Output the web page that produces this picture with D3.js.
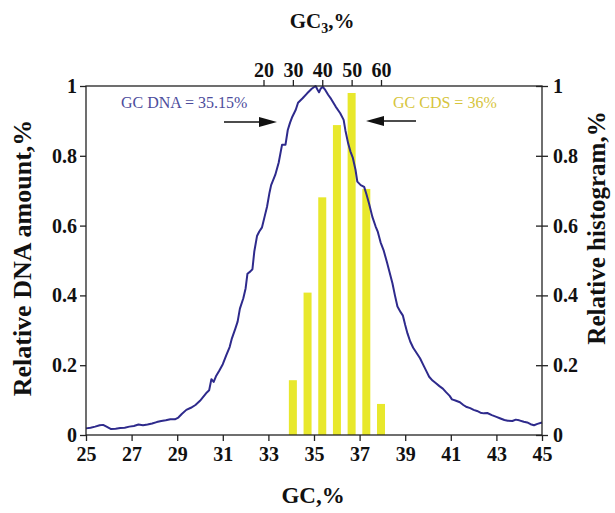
<!DOCTYPE html>
<html>
<head>
<meta charset="utf-8">
<script src="https://cdn.jsdelivr.net/npm/d3@7"></script>
<style>
  body { margin: 0; background: #fff; }
  text { font-family: "Liberation Serif", "DejaVu Serif", serif; }
</style>
</head>
<body>
<svg></svg>
<script>
var width = 615,
    height = 513;

// DNA GC content curve (bottom axis, left axis)
var gcDna = [25.0, 25.2, 25.4, 25.6, 25.75, 25.9, 26.1, 26.3, 26.5, 26.7, 26.9, 27.1, 27.3, 27.5, 27.7, 27.9,
    28.1, 28.3, 28.5, 28.7, 28.9, 29.05, 29.2, 29.4, 29.6, 29.8, 30.0, 30.15, 30.3, 30.4, 30.5, 30.6, 30.7,
    30.85, 31.0, 31.15, 31.3, 31.4, 31.55, 31.65, 31.75, 31.9, 32.0, 32.08, 32.2, 32.3, 32.38, 32.5, 32.6,
    32.72, 32.85, 32.94, 33.05, 33.12, 33.3, 33.45, 33.55, 33.6, 33.75, 33.85, 33.95, 34.05, 34.2, 34.3,
    34.5, 34.7, 34.9, 35.07, 35.15, 35.22, 35.3, 35.38, 35.5, 35.62, 35.75, 35.95, 36.15, 36.3, 36.38,
    36.5, 36.6, 36.7, 36.82, 36.9, 37.05, 37.2, 37.3, 37.42, 37.56, 37.7, 37.8, 37.92, 38.05, 38.2, 38.3,
    38.44, 38.55, 38.66, 38.8, 38.9, 39.0, 39.1, 39.22, 39.35, 39.5, 39.65, 39.83, 39.95, 40.05, 40.2,
    40.35, 40.5, 40.65, 40.8, 40.95, 41.05, 41.2, 41.4, 41.55, 41.7, 41.85, 42.0, 42.15, 42.3, 42.45,
    42.6, 42.8, 43.0, 43.15, 43.35, 43.5, 43.7, 43.85, 44.0, 44.2, 44.35, 44.5, 44.65, 44.8, 45.0];
var relDna = [0.019, 0.021, 0.024, 0.028, 0.029, 0.024, 0.017, 0.018, 0.020, 0.021, 0.024, 0.026, 0.030, 0.028, 0.030, 0.033,
    0.037, 0.040, 0.042, 0.045, 0.045, 0.050, 0.060, 0.072, 0.078, 0.086, 0.098, 0.110, 0.122, 0.128, 0.160, 0.152, 0.168,
    0.185, 0.203, 0.228, 0.252, 0.277, 0.305, 0.325, 0.362, 0.392, 0.420, 0.462, 0.468, 0.475, 0.525, 0.570, 0.583,
    0.595, 0.630, 0.654, 0.695, 0.716, 0.745, 0.780, 0.815, 0.832, 0.832, 0.874, 0.895, 0.912, 0.932, 0.952,
    0.965, 0.979, 0.992, 1.000, 0.990, 0.982, 0.993, 0.998, 0.988, 0.975, 0.963, 0.941, 0.922, 0.903, 0.872,
    0.835, 0.812, 0.795, 0.760, 0.726, 0.716, 0.711, 0.690, 0.662, 0.625, 0.598, 0.582, 0.552, 0.530, 0.495, 0.470,
    0.435, 0.400, 0.368, 0.352, 0.342, 0.315, 0.291, 0.268, 0.250, 0.235, 0.220, 0.196, 0.180, 0.167, 0.156,
    0.148, 0.140, 0.133, 0.122, 0.112, 0.102, 0.099, 0.094, 0.086, 0.080, 0.077, 0.072, 0.069, 0.064, 0.062,
    0.063, 0.057, 0.052, 0.048, 0.043, 0.041, 0.040, 0.044, 0.042, 0.038, 0.036, 0.031, 0.028, 0.032, 0.036];

// CDS GC3 histogram (top axis, right axis)
var gc3Bins = [30, 35, 40, 45, 50, 55, 60];
var relHist = [0.157, 0.408, 0.681, 0.888, 0.980, 0.705, 0.089];

// tick labels
var gcTicks = [25, 27, 29, 31, 33, 35, 37, 39, 41, 43, 45];
var gc3Ticks = [20, 30, 40, 50, 60];
var relTicks = [0, 0.2, 0.4, 0.6, 0.8, 1];

var svg = d3.select("svg")
    .attr("width", width)
    .attr("height", height);

var x = d3.scaleLinear().domain([25, 45]).range([86, 542]);
var x3 = d3.scaleLinear().domain([20, 60]).range([263.5, 381]);
var y = d3.scaleLinear().domain([0, 1]).range([435, 86]);

var fmt = function(d) { return d === 0 || d === 1 ? String(d) : d.toFixed(1); };

////////////////////////
//
// Histogram bars
//
////////////////////////

svg.selectAll(".bar")
    .data(gc3Bins)
    .enter()
    .append("rect")
    .attr("x", function(d) { return x3(d) - 4; })
    .attr("width", 8)
    .attr("y", function(d, i) { return y(relHist[i]); })
    .attr("height", function(d, i) { return y(0) - y(relHist[i]); })
    .attr("fill", "#e8e82c");

////////////////////////
//
// DNA curve
//
////////////////////////

var line = d3.line()
    .x(function(d) { return x(d); })
    .y(function(d, i) { return y(relDna[i]); });

svg.append("path")
    .attr("d", line(gcDna))
    .attr("fill", "none")
    .attr("stroke", "#2e2a8c")
    .attr("stroke-width", 2)
    .attr("stroke-linejoin", "round");

////////////////////////
//
// Frame and axes
//
////////////////////////

svg.append("rect")
    .attr("x", x.range()[0])
    .attr("y", y.range()[1])
    .attr("width", x.range()[1] - x.range()[0])
    .attr("height", y.range()[0] - y.range()[1])
    .attr("fill", "none")
    .attr("stroke", "#222")
    .attr("stroke-width", 1.3);

function styleAxis(g, size) {
    g.select(".domain").remove();
    g.selectAll("line").attr("stroke", "#222").attr("stroke-width", 1.3);
    g.selectAll("text")
        .attr("font-family", "Liberation Serif, serif")
        .attr("font-weight", "bold")
        .attr("font-size", size)
        .attr("fill", "#111");
}

svg.append("g")
    .attr("transform", "translate(0," + y(0) + ")")
    .call(d3.axisBottom(x).tickValues(gcTicks).tickSize(6).tickPadding(6))
    .call(styleAxis, 20);

svg.append("g")
    .attr("transform", "translate(0," + y(1) + ")")
    .call(d3.axisTop(x3).tickValues(gc3Ticks).tickSize(6).tickPadding(3))
    .call(styleAxis, 20);

svg.append("g")
    .attr("transform", "translate(" + x(25) + ",0)")
    .call(d3.axisLeft(y).tickValues(relTicks).tickFormat(fmt).tickSize(6).tickPadding(3))
    .call(styleAxis, 20);

var right = svg.append("g")
    .attr("transform", "translate(" + x(45) + ",0)")
    .call(d3.axisRight(y).tickValues(relTicks).tickFormat(fmt).tickSize(6).tickPadding(5))
    .call(styleAxis, 20);
right.selectAll(".tick line").attr("x1", -6);

////////////////////////
//
// Titles
//
////////////////////////

var title3 = svg.append("text")
    .attr("x", 322)
    .attr("y", 28)
    .attr("text-anchor", "middle")
    .attr("font-weight", "bold")
    .attr("font-size", 21)
    .attr("fill", "#111");
title3.append("tspan").text("GC");
title3.append("tspan").attr("font-size", 14).attr("dy", 5).text("3");
title3.append("tspan").attr("dy", -5).text(",%");

svg.append("text")
    .attr("x", 313)
    .attr("y", 503)
    .attr("text-anchor", "middle")
    .attr("font-weight", "bold")
    .attr("font-size", 23)
    .attr("fill", "#111")
    .text("GC,%");

svg.append("text")
    .attr("transform", "translate(31,258) rotate(-90)")
    .attr("text-anchor", "middle")
    .attr("font-weight", "bold")
    .attr("font-size", 26)
    .attr("fill", "#111")
    .text("Relative DNA amount,%");

svg.append("text")
    .attr("transform", "translate(605,228) rotate(-90)")
    .attr("text-anchor", "middle")
    .attr("font-weight", "bold")
    .attr("font-size", 25)
    .attr("fill", "#111")
    .text("Relative histogram,%");

////////////////////////
//
// Annotations
//
////////////////////////

svg.append("text")
    .attr("x", 121)
    .attr("y", 108)
    .attr("font-size", 16)
    .attr("fill", "#4c4c9c")
    .text("GC DNA = 35.15%");

svg.append("text")
    .attr("x", 393)
    .attr("y", 108)
    .attr("font-size", 16)
    .attr("fill", "#d6c53c")
    .text("GC CDS = 36%");

function arrow(x0, x1, yy) {
    var dir = x1 > x0 ? 1 : -1;
    svg.append("line")
        .attr("x1", x0).attr("y1", yy)
        .attr("x2", x1 - dir * 16).attr("y2", yy)
        .attr("stroke", "#111")
        .attr("stroke-width", 1.6);
    svg.append("path")
        .attr("d", "M" + x1 + "," + yy + " L" + (x1 - dir * 18) + "," + (yy - 5) +
            " L" + (x1 - dir * 18) + "," + (yy + 5) + "Z")
        .attr("fill", "#111");
}

arrow(224, 277, 122);
arrow(416, 366, 121);
</script>
</body>
</html>
